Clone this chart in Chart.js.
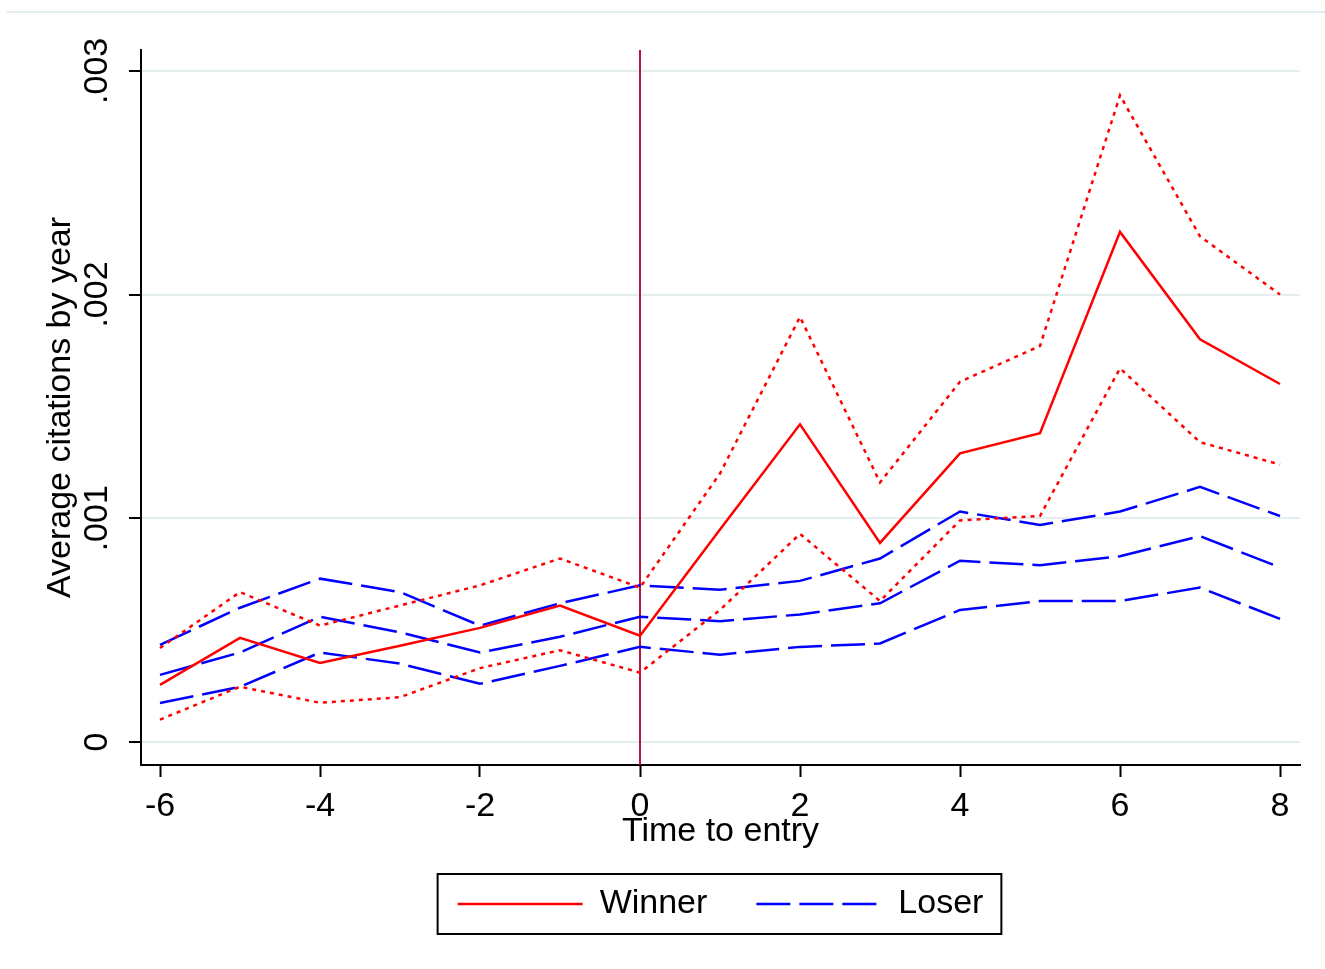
<!DOCTYPE html>
<html>
<head>
<meta charset="utf-8">
<title>Average citations by year</title>
<script src="https://cdn.jsdelivr.net/npm/chart.js@4/dist/chart.umd.min.js"></script>
<style>
  html, body { margin: 0; padding: 0; background: #fff; }
  #chart { display: block; }
</style>
</head>
<body>
<canvas id="chart" width="1325" height="969"></canvas>
<script>
// Time to entry (years)
const years = [-6, -5, -4, -3, -2, -1, 0, 1, 2, 3, 4, 5, 6, 7, 8];

// Winner: mean and confidence band
const winnerMean  = [0.000255, 0.000465, 0.000353, 0.00043, 0.00051, 0.00061, 0.000475, 0.00095, 0.00142, 0.00089, 0.00129, 0.00138, 0.00228, 0.0018, 0.0016];
const winnerUpper = [0.00042, 0.00067, 0.00052, 0.00061, 0.0007, 0.00082, 0.00069, 0.0012, 0.0019, 0.00116, 0.00161, 0.00177, 0.00289, 0.00226, 0.002];
const winnerLower = [0.0001, 0.000247, 0.000175, 0.0002, 0.00033, 0.00041, 0.00031, 0.00059, 0.00093, 0.00063, 0.00099, 0.00101, 0.00167, 0.00134, 0.00124];

// Loser: mean and confidence band
const loserMean  = [0.0003, 0.0004, 0.00056, 0.00049, 0.0004, 0.00047, 0.00056, 0.00054, 0.00057, 0.00062, 0.00081, 0.00079, 0.00083, 0.00092, 0.00078];
const loserUpper = [0.000434, 0.0006, 0.00073, 0.00067, 0.00052, 0.00062, 0.0007, 0.00068, 0.00072, 0.00082, 0.00103, 0.00097, 0.00103, 0.00114, 0.00101];
const loserLower = [0.000174, 0.000246, 0.0004, 0.00035, 0.00026, 0.00034, 0.000425, 0.00039, 0.000425, 0.00044, 0.00059, 0.00063, 0.00063, 0.00069, 0.00055];

// Axis ticks
const xTicks = [-6, -4, -2, 0, 2, 4, 6, 8];
const yTicks = [0, 0.001, 0.002, 0.003];
const entryYear = 0;

const RED = '#ff0000';
const BLUE = '#0000ff';
const DOTS = [4, 5];
const LONGDASH = [34, 9];

function pts(values) {
  return values.map((v, i) => ({ x: years[i], y: v }));
}

function line(label, values, color, dash) {
  return {
    label: label,
    data: pts(values),
    borderColor: color,
    backgroundColor: color,
    borderWidth: 2.5,
    borderDash: dash,
    pointRadius: 0,
    tension: 0,
    fill: false
  };
}

Chart.defaults.font.family = "'Liberation Sans', Arial, sans-serif";
Chart.defaults.font.size = 34;
Chart.defaults.color = '#000';

// white page, faint outer rule, entry line and legend frame
const decorations = {
  id: 'decorations',
  beforeDraw(chart) {
    const ctx = chart.ctx;
    ctx.save();
    ctx.fillStyle = '#fff';
    ctx.fillRect(0, 0, chart.width, chart.height);
    ctx.strokeStyle = '#e3ecee';
    ctx.lineWidth = 2;
    ctx.beginPath();
    ctx.moveTo(7, 12);
    ctx.lineTo(chart.width, 12);
    ctx.stroke();
    ctx.restore();
  },
  beforeDatasetsDraw(chart) {
    const ctx = chart.ctx;
    const area = chart.chartArea;
    const x = chart.scales.x.getPixelForValue(entryYear);
    ctx.save();
    ctx.strokeStyle = '#c0143c';
    ctx.lineWidth = 2;
    ctx.beginPath();
    ctx.moveTo(x, area.top);
    ctx.lineTo(x, area.bottom);
    ctx.stroke();
    ctx.restore();
  },
  afterDraw(chart) {
    const boxes = chart.legend && chart.legend.legendHitBoxes;
    if (!boxes || !boxes.length) return;
    const first = boxes[0];
    const last = boxes[boxes.length - 1];
    const cy = first.top + first.height / 2;
    const ctx = chart.ctx;
    ctx.save();
    ctx.strokeStyle = '#000';
    ctx.lineWidth = 2;
    const left = first.left - 20;
    const right = last.left + last.width + 18;
    ctx.strokeRect(left, cy - 30, right - left, 60);
    ctx.restore();
  }
};

new Chart(document.getElementById('chart'), {
  type: 'line',
  data: {
    datasets: [
      line('Winner', winnerMean, RED, []),
      line('Winner upper', winnerUpper, RED, DOTS),
      line('Winner lower', winnerLower, RED, DOTS),
      line('Loser', loserMean, BLUE, LONGDASH),
      line('Loser upper', loserUpper, BLUE, LONGDASH),
      line('Loser lower', loserLower, BLUE, LONGDASH)
    ]
  },
  options: {
    responsive: false,
    animation: false,
    devicePixelRatio: 1,
    layout: { padding: { left: 0, right: 25, top: 50, bottom: 38 } },
    plugins: {
      tooltip: { enabled: false },
      legend: {
        position: 'bottom',
        fullSize: false,
        labels: {
          usePointStyle: true,
          pointStyleWidth: 125,
          padding: 49,
          color: '#000',
          font: { size: 34 },
          generateLabels: () => [
            { text: 'Winner', strokeStyle: RED, fillStyle: RED, lineWidth: 2.5, lineDash: [], pointStyle: 'line', hidden: false, datasetIndex: 0, fontColor: '#000' },
            { text: 'Loser', strokeStyle: BLUE, fillStyle: BLUE, lineWidth: 2.5, lineDash: LONGDASH, pointStyle: 'line', hidden: false, datasetIndex: 3, fontColor: '#000' }
          ]
        }
      }
    },
    scales: {
      x: {
        type: 'linear',
        min: -6.2375,
        max: 8.25,
        afterBuildTicks: (scale) => { scale.ticks = xTicks.map(v => ({ value: v })); },
        afterFit: (scale) => { scale.height = 73; },
        border: { color: '#000', width: 2 },
        grid: { drawOnChartArea: false, drawTicks: true, tickLength: 12, tickColor: '#000', tickWidth: 2 },
        ticks: { padding: 9, maxRotation: 0, autoSkip: false, color: '#000', callback: (v) => String(v) },
        title: { display: true, text: 'Time to entry', color: '#000', padding: { top: 0, bottom: -14 } }
      },
      y: {
        type: 'linear',
        min: -0.000103,
        max: 0.003093,
        afterBuildTicks: (scale) => { scale.ticks = yTicks.map(v => ({ value: v })); },
        afterFit: (scale) => { scale.width = 141; },
        border: { color: '#000', width: 2 },
        grid: { color: '#e4eef0', lineWidth: 2, drawTicks: true, tickLength: 12, tickColor: '#000', tickWidth: 2 },
        ticks: {
          minRotation: 90,
          maxRotation: 90,
          crossAlign: 'center',
          padding: -2,
          color: '#000',
          callback: (v) => v === 0 ? '0' : String(v).replace(/^0/, '')
        },
        title: { display: true, text: 'Average citations by year', color: '#000', padding: { top: 40, bottom: 0 } }
      }
    }
  },
  plugins: [decorations]
});
</script>
</body>
</html>
